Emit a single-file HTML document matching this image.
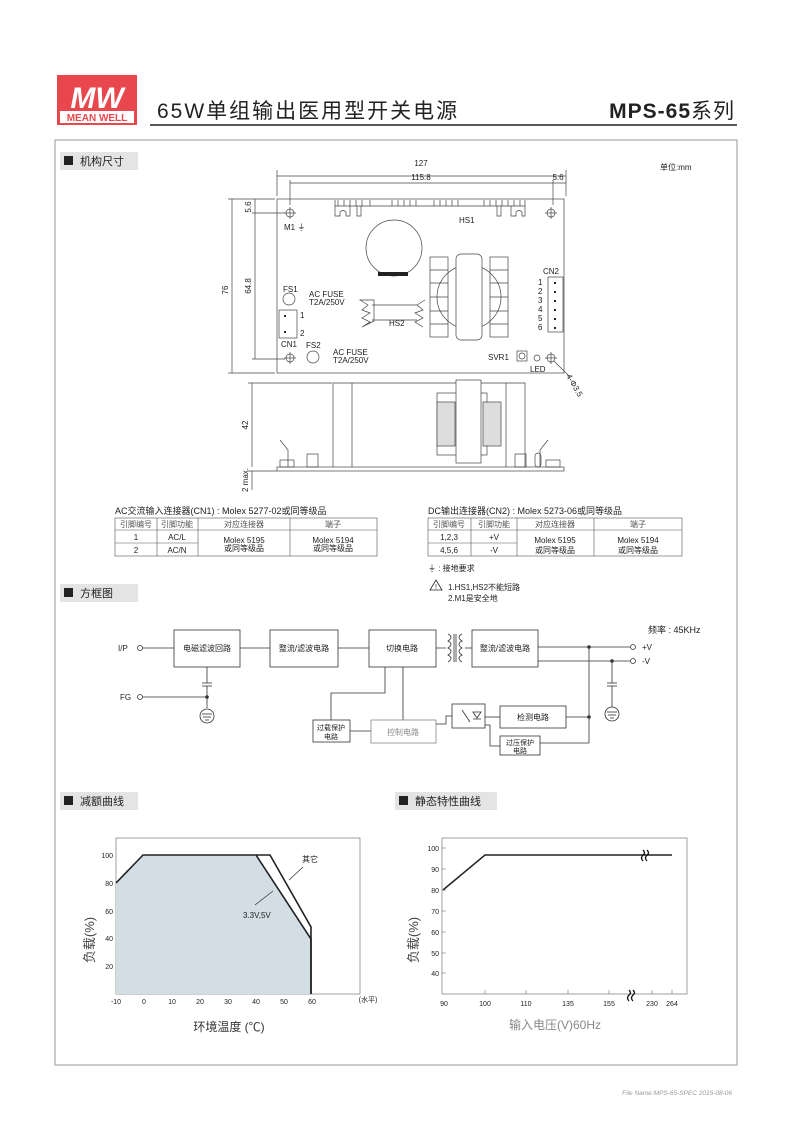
<!DOCTYPE html>
<html><head><meta charset="utf-8"><style>
html,body{margin:0;padding:0;background:#fff}
svg{display:block}
text{font-family:"Liberation Sans","Noto Sans CJK SC",sans-serif;fill:#222}
.s{font-size:8px}
.c{font-family:"Noto Sans CJK SC","WenQuanYi Zen Hei",sans-serif}
</style></head><body>
<svg width="793" height="1122" viewBox="0 0 793 1122" xmlns="http://www.w3.org/2000/svg">
<!-- header -->
<rect x="57" y="75" width="80" height="50" fill="#e8474d"/>
<text x="97" y="108" font-size="30" font-style="italic" font-weight="bold" text-anchor="middle" style="fill:#fff">MW</text>
<rect x="60" y="111" width="74" height="12" fill="#fff"/>
<text x="97" y="121" font-size="10" font-weight="bold" text-anchor="middle" style="fill:#e8474d">MEAN WELL</text>
<text x="157" y="118" font-size="21" style="letter-spacing:2px">65W单组输出医用型开关电源</text>
<text x="735" y="118" font-size="21" font-weight="bold" text-anchor="end" style="letter-spacing:1px">MPS-65<tspan font-weight="normal">系列</tspan></text>
<line x1="150" y1="125" x2="737" y2="125" stroke="#222" stroke-width="1.5"/>
<rect x="55" y="140" width="682" height="925" fill="none" stroke="#999" stroke-width="1"/>

<!-- section headers -->
<g font-size="11" class="c">
<rect x="60" y="152" width="78" height="18" fill="#e4e4e4"/><rect x="64" y="156" width="9" height="9" fill="#222"/><text x="80" y="165">机构尺寸</text>
<rect x="60" y="584" width="78" height="18" fill="#e4e4e4"/><rect x="64" y="588" width="9" height="9" fill="#222"/><text x="80" y="597">方框图</text>
<rect x="60" y="792" width="78" height="18" fill="#e4e4e4"/><rect x="64" y="796" width="9" height="9" fill="#222"/><text x="80" y="805">减额曲线</text>
<rect x="395" y="792" width="102" height="18" fill="#e4e4e4"/><rect x="399" y="796" width="9" height="9" fill="#222"/><text x="415" y="805">静态特性曲线</text>
</g>
<text x="660" y="170" class="s">单位:mm</text>

<!-- mechanical top view -->
<g stroke="#444" stroke-width="0.7" fill="none">
<rect x="277" y="199" width="287" height="174"/>
<line x1="277" y1="176" x2="566" y2="176"/><line x1="277" y1="170" x2="277" y2="196"/><line x1="566" y1="170" x2="566" y2="196"/>
<line x1="290" y1="183" x2="566" y2="183"/><line x1="290" y1="180" x2="290" y2="205"/><line x1="553" y1="180" x2="553" y2="205"/>
<line x1="232" y1="199" x2="232" y2="373"/><line x1="228" y1="199" x2="275" y2="199"/><line x1="228" y1="373" x2="275" y2="373"/>
<line x1="255" y1="199" x2="255" y2="359"/><line x1="252" y1="213" x2="285" y2="213"/><line x1="252" y1="359" x2="285" y2="359"/>
<!-- holes -->
<circle cx="290" cy="213" r="4"/><line x1="284" y1="213" x2="296" y2="213"/><line x1="290" y1="207" x2="290" y2="219"/>
<circle cx="551" cy="213" r="4"/><line x1="545" y1="213" x2="557" y2="213"/><line x1="551" y1="207" x2="551" y2="219"/>
<circle cx="290" cy="358" r="4"/><line x1="284" y1="358" x2="296" y2="358"/><line x1="290" y1="352" x2="290" y2="364"/>
<circle cx="551" cy="358" r="4"/><line x1="545" y1="358" x2="557" y2="358"/><line x1="551" y1="352" x2="551" y2="364"/>
<line x1="554" y1="361" x2="570" y2="377"/>
<!-- HS1 -->
<path d="M335 200 v6 h190 v-6"/>
<path d="M338 200 v6 M344 200 v6 M350 200 v6 M356 200 v6 M362 200 v6 M370 200 v6 M392 200 v6 M398 200 v6 M404 200 v6 M410 200 v6 M416 200 v6 M434 200 v6 M440 200 v6 M446 200 v6 M452 200 v6 M458 200 v6 M484 200 v6 M490 200 v6 M496 200 v6 M502 200 v6 M508 200 v6 M514 200 v6 M520 200 v6"/>
<path d="M335 206 v10 h5 v-4 q3 -3 6 0 v4 h4 v-10 M357 206 v10 h4 v-10 M497 206 v10 h4 v-10 M511 206 v10 h5 v-4 q3 -3 6 0 v4 h3 v-10"/>
<!-- cap -->
<circle cx="394" cy="248" r="28"/>
<!-- transformer -->
<rect x="430" y="257" width="18" height="80"/><rect x="490" y="257" width="18" height="80"/>
<line x1="430" y1="270" x2="448" y2="270"/><line x1="430" y1="283" x2="448" y2="283"/><line x1="430" y1="297" x2="448" y2="297"/><line x1="430" y1="311" x2="448" y2="311"/><line x1="430" y1="324" x2="448" y2="324"/>
<line x1="490" y1="270" x2="508" y2="270"/><line x1="490" y1="283" x2="508" y2="283"/><line x1="490" y1="297" x2="508" y2="297"/><line x1="490" y1="311" x2="508" y2="311"/><line x1="490" y1="324" x2="508" y2="324"/>
<circle cx="469" cy="297" r="32"/>
<rect x="456" y="254" width="26" height="86" rx="5" fill="#fff"/>
<!-- HS2 -->
<path d="M360 300 l8 5 l-6 5 l8 3 l-8 5 l8 4 l-8 5 l12 -6 v-21 z M372 305 h45 M372 320 h45 M425 300 l-8 5 l6 5 l-8 3 l8 5 l-8 4 l8 5"/>
<!-- CN2 -->
<rect x="548" y="277" width="15" height="55"/>
<!-- CN1 -->
<rect x="279" y="310" width="18" height="28"/>
<circle cx="289" cy="299" r="6"/><circle cx="313" cy="357" r="6"/>
<rect x="517" y="351" width="10" height="10"/><circle cx="522" cy="356" r="3"/><circle cx="537" cy="358" r="3"/>
<!-- side view -->
<rect x="277" y="467" width="287" height="4"/>
<path d="M333 467 v-84 h192 v84 M352 383 v84 M506 383 v84"/>
<rect x="437" y="393" width="50" height="62" fill="#fff"/>
<rect x="456" y="380" width="25" height="83" fill="#fff"/>
<rect x="437" y="402" width="18" height="44" fill="#ddd"/><rect x="483" y="402" width="18" height="44" fill="#ddd"/>
<rect x="307" y="454" width="11" height="13"/><rect x="515" y="454" width="11" height="13"/><rect x="535" y="453" width="6" height="14" rx="3"/>
<path d="M280 440 l8 10 v17 M548 440 l-8 10 v17"/><rect x="280" y="460" width="14" height="7"/><rect x="546" y="460" width="14" height="7"/>
<line x1="252" y1="383" x2="252" y2="467"/><line x1="248" y1="383" x2="332" y2="383"/>
<line x1="248" y1="471" x2="277" y2="471"/><line x1="252" y1="471" x2="252" y2="490"/>
</g>
<rect x="378" y="272" width="30" height="4" fill="#222"/>
<g font-size="8">
<text x="421" y="166" text-anchor="middle">127</text>
<text x="421" y="180" text-anchor="middle">115.8</text>
<text x="558" y="180" text-anchor="middle">5.6</text>
<text x="228" y="290" transform="rotate(-90 228 290)" text-anchor="middle">76</text>
<text x="251" y="286" transform="rotate(-90 251 286)" text-anchor="middle">64.8</text>
<text x="251" y="207" transform="rotate(-90 251 207)" text-anchor="middle">5.6</text>
<text x="248" y="425" transform="rotate(-90 248 425)" text-anchor="middle">42</text>
<text x="248" y="480" transform="rotate(-90 248 480)" text-anchor="middle">2 max.</text>
<text x="284" y="230">M1 ⏚</text>
<text x="459" y="223">HS1</text>
<text x="283" y="292">FS1</text>
<text x="309" y="297">AC FUSE</text><text x="309" y="305">T2A/250V</text>
<text x="300" y="318">1</text><text x="300" y="336">2</text>
<text x="281" y="347">CN1</text>
<text x="306" y="348">FS2</text>
<text x="333" y="355">AC FUSE</text><text x="333" y="363">T2A/250V</text>
<text x="389" y="326">HS2</text>
<text x="543" y="274">CN2</text>
<text x="538" y="285">1</text><text x="538" y="294">2</text><text x="538" y="303">3</text><text x="538" y="312">4</text><text x="538" y="321">5</text><text x="538" y="330">6</text>
<text x="488" y="360">SVR1</text>
<text x="530" y="372">LED</text>
<text x="566" y="376" transform="rotate(60 566 376)">4-Φ3.5</text>
</g>
<g fill="#222"><rect x="554" y="282" width="2" height="2"/><rect x="554" y="291" width="2" height="2"/><rect x="554" y="300" width="2" height="2"/><rect x="554" y="309" width="2" height="2"/><rect x="554" y="318" width="2" height="2"/><rect x="554" y="327" width="2" height="2"/><rect x="284" y="315" width="2" height="2"/><rect x="284" y="331" width="2" height="2"/></g>

<!-- tables -->
<g font-size="8">
<text x="115" y="514" font-size="9">AC交流输入连接器(CN1) : Molex 5277-02或同等级品</text>
<g stroke="#555" stroke-width="0.6" fill="none">
<rect x="115" y="518" width="262" height="38"/><line x1="115" y1="530" x2="377" y2="530"/><line x1="115" y1="543" x2="198" y2="543"/>
<line x1="157" y1="518" x2="157" y2="556"/><line x1="198" y1="518" x2="198" y2="556"/><line x1="290" y1="518" x2="290" y2="556"/>
</g>
<g text-anchor="middle"><text x="136" y="527" style="fill:#555">引脚编号</text><text x="177" y="527" style="fill:#555">引脚功能</text><text x="244" y="527" style="fill:#555">对应连接器</text><text x="333" y="527" style="fill:#555">端子</text>
<text x="136" y="540">1</text><text x="177" y="540">AC/L</text><text x="136" y="553">2</text><text x="177" y="553">AC/N</text>
<text x="244" y="543">Molex 5195</text><text x="244" y="551">或同等级品</text><text x="333" y="543">Molex 5194</text><text x="333" y="551">或同等级品</text></g>
<text x="428" y="514" font-size="9">DC输出连接器(CN2) : Molex 5273-06或同等级品</text>
<g stroke="#555" stroke-width="0.6" fill="none">
<rect x="428" y="518" width="254" height="38"/><line x1="428" y1="530" x2="682" y2="530"/><line x1="428" y1="543" x2="517" y2="543"/>
<line x1="471" y1="518" x2="471" y2="556"/><line x1="517" y1="518" x2="517" y2="556"/><line x1="594" y1="518" x2="594" y2="556"/>
</g>
<g text-anchor="middle"><text x="449" y="527" style="fill:#555">引脚编号</text><text x="494" y="527" style="fill:#555">引脚功能</text><text x="555" y="527" style="fill:#555">对应连接器</text><text x="638" y="527" style="fill:#555">端子</text>
<text x="449" y="540">1,2,3</text><text x="494" y="540">+V</text><text x="449" y="553">4,5,6</text><text x="494" y="553">-V</text>
<text x="555" y="543">Molex 5195</text><text x="555" y="553">或同等级品</text><text x="638" y="543">Molex 5194</text><text x="638" y="553">或同等级品</text></g>
<text x="428" y="571">⏚ : 接地要求</text>
<path d="M436 580 l6 10 h-12 z" fill="none" stroke="#222" stroke-width="0.8"/><text x="435" y="589" font-size="7">!</text>
<text x="448" y="590">1.HS1,HS2不能短路</text><text x="448" y="601">2.M1是安全地</text>
<text x="648" y="633" font-size="9">频率 : 45KHz</text>
</g>

<!-- block diagram -->
<g stroke="#333" stroke-width="0.8" fill="none">
<rect x="174" y="630" width="66" height="37"/><rect x="270" y="630" width="68" height="37"/><rect x="369" y="630" width="67" height="37"/><rect x="472" y="630" width="66" height="37"/>
<circle cx="140" cy="648" r="2.5"/><line x1="143" y1="648" x2="174" y2="648"/>
<line x1="240" y1="648" x2="270" y2="648"/><line x1="338" y1="648" x2="369" y2="648"/>
<path d="M436 648 h10 M465 648 h7 M448 634 q6 3 0 7 q6 3 0 7 q6 3 0 7 q6 3 0 7 M462 634 q-6 3 0 7 q-6 3 0 7 q-6 3 0 7 q-6 3 0 7 M454 634 v28 M456 634 v28"/>
<line x1="538" y1="647" x2="630" y2="647"/><circle cx="633" cy="647" r="2.5"/>
<line x1="538" y1="661" x2="630" y2="661"/><circle cx="633" cy="661" r="2.5"/>
<line x1="207" y1="667" x2="207" y2="683"/><line x1="202" y1="683" x2="212" y2="683"/><line x1="202" y1="686" x2="212" y2="686"/><line x1="207" y1="686" x2="207" y2="708"/>
<circle cx="140" cy="697" r="2.5"/><line x1="143" y1="697" x2="207" y2="697"/>
<circle cx="207" cy="716" r="7"/><line x1="202" y1="714" x2="212" y2="714"/><line x1="203" y1="717" x2="211" y2="717"/><line x1="205" y1="720" x2="209" y2="720"/>
<line x1="612" y1="661" x2="612" y2="683"/><line x1="607" y1="683" x2="617" y2="683"/><line x1="607" y1="686" x2="617" y2="686"/><line x1="612" y1="686" x2="612" y2="707"/>
<circle cx="612" cy="714" r="7"/><line x1="607" y1="712" x2="617" y2="712"/><line x1="608" y1="715" x2="616" y2="715"/><line x1="610" y1="718" x2="614" y2="718"/>
<line x1="589" y1="647" x2="589" y2="743"/><line x1="566" y1="717" x2="589" y2="717"/><line x1="540" y1="743" x2="589" y2="743"/>
<path d="M385 667 v26 h-54 v27 M403 667 v53"/>
<rect x="313" y="720" width="37" height="22"/><rect x="371" y="720" width="65" height="23" stroke="#888"/>
<line x1="350" y1="731" x2="371" y2="731"/>
<path d="M436 724 h10 v-8 h6"/><rect x="452" y="704" width="33" height="24"/><line x1="462" y1="710" x2="470" y2="722"/>
<path d="M473 712 l4 6 l4 -6 z M473 719 h8"/>
<rect x="500" y="706" width="66" height="22"/><line x1="485" y1="717" x2="500" y2="717"/>
<rect x="500" y="736" width="40" height="19"/><path d="M500 746 h-10 v-21 h-5"/>
</g>
<g fill="#333"><circle cx="207" cy="697" r="1.8"/><circle cx="589" cy="647" r="1.8"/><circle cx="612" cy="661" r="1.8"/><circle cx="589" cy="717" r="1.8"/></g>
<g font-size="8" class="c" text-anchor="middle">
<text x="207" y="651">电磁滤波回路</text><text x="304" y="651">整流/滤波电路</text><text x="402" y="651">切换电路</text><text x="505" y="651">整流/滤波电路</text>
<text x="403" y="735" style="fill:#888">控制电路</text><text x="533" y="720">检测电路</text>
<text x="331" y="730" font-size="7">过载保护</text><text x="331" y="739" font-size="7">电路</text>
<text x="520" y="745" font-size="7">过压保护</text><text x="520" y="753" font-size="7">电路</text>
</g>
<g font-size="8"><text x="118" y="651">I/P</text><text x="120" y="700">FG</text><text x="642" y="650">+V</text><text x="642" y="664">-V</text></g>

<!-- derating chart -->
<rect x="116" y="838" width="244" height="156" fill="none" stroke="#777" stroke-width="0.7"/>
<polygon points="116,883 143,855 256,855 311,939 311,994 116,994" fill="#d2dde4"/>
<polyline points="116,883 143,855 256,855 311,939 311,994" fill="none" stroke="#222" stroke-width="1.6"/>
<polyline points="256,855 270,855 311,927 311,994" fill="none" stroke="#222" stroke-width="1.6"/>
<line x1="289" y1="880" x2="303" y2="867" stroke="#222" stroke-width="0.6"/>
<line x1="255" y1="905" x2="273" y2="891" stroke="#222" stroke-width="0.6"/>
<g font-size="7" text-anchor="end"><text x="113" y="858">100</text><text x="113" y="886">80</text><text x="113" y="914">60</text><text x="113" y="941">40</text><text x="113" y="969">20</text></g>
<g font-size="7" text-anchor="middle"><text x="116" y="1004">-10</text><text x="144" y="1004">0</text><text x="172" y="1004">10</text><text x="200" y="1004">20</text><text x="228" y="1004">30</text><text x="256" y="1004">40</text><text x="284" y="1004">50</text><text x="312" y="1004">60</text><text x="368" y="1002">(水平)</text></g>
<text x="302" y="862" font-size="8">其它</text><text x="243" y="918" font-size="8">3.3V,5V</text>
<text x="94" y="940" font-size="13" transform="rotate(-90 94 940)" text-anchor="middle" style="fill:#444">负载(%)</text>
<text x="229" y="1031" font-size="12" text-anchor="middle" style="fill:#333">环境温度 (℃)</text>

<!-- static chart -->
<rect x="442" y="838" width="245" height="156" fill="none" stroke="#777" stroke-width="0.7"/>
<g stroke="#777" stroke-width="0.6"><line x1="442" y1="848" x2="446" y2="848"/><line x1="442" y1="869" x2="446" y2="869"/><line x1="442" y1="890" x2="446" y2="890"/><line x1="442" y1="911" x2="446" y2="911"/><line x1="442" y1="932" x2="446" y2="932"/><line x1="442" y1="953" x2="446" y2="953"/><line x1="442" y1="973" x2="446" y2="973"/>
<line x1="485" y1="994" x2="485" y2="990"/><line x1="526" y1="994" x2="526" y2="990"/><line x1="568" y1="994" x2="568" y2="990"/><line x1="609" y1="994" x2="609" y2="990"/><line x1="652" y1="994" x2="652" y2="990"/><line x1="672" y1="994" x2="672" y2="990"/></g>
<polyline points="443,890 485,855 672,855" fill="none" stroke="#222" stroke-width="1.5"/>
<g stroke="#111" stroke-width="1.3" fill="none">
<path d="M643 850 q3 3 0 5 q-3 3 0 6 M647 850 q3 3 0 5 q-3 3 0 6"/>
<path d="M629 990 q3 3 0 5 q-3 3 0 6 M633 990 q3 3 0 5 q-3 3 0 6"/>
</g>
<g font-size="7" text-anchor="end"><text x="439" y="851">100</text><text x="439" y="872">90</text><text x="439" y="893">80</text><text x="439" y="914">70</text><text x="439" y="935">60</text><text x="439" y="956">50</text><text x="439" y="976">40</text></g>
<g font-size="7" text-anchor="middle"><text x="444" y="1006">90</text><text x="485" y="1006">100</text><text x="526" y="1006">110</text><text x="568" y="1006">135</text><text x="609" y="1006">155</text><text x="652" y="1006">230</text><text x="672" y="1006">264</text></g>
<text x="418" y="940" font-size="13" transform="rotate(-90 418 940)" text-anchor="middle" style="fill:#444">负载(%)</text>
<text x="555" y="1029" font-size="12" text-anchor="middle" style="fill:#888">输入电压(V)60Hz</text>

<text x="732" y="1095" font-size="6.5" font-style="italic" text-anchor="end" style="fill:#999">File Name:MPS-65-SPEC   2015-08-06</text>
</svg>
</body></html>
